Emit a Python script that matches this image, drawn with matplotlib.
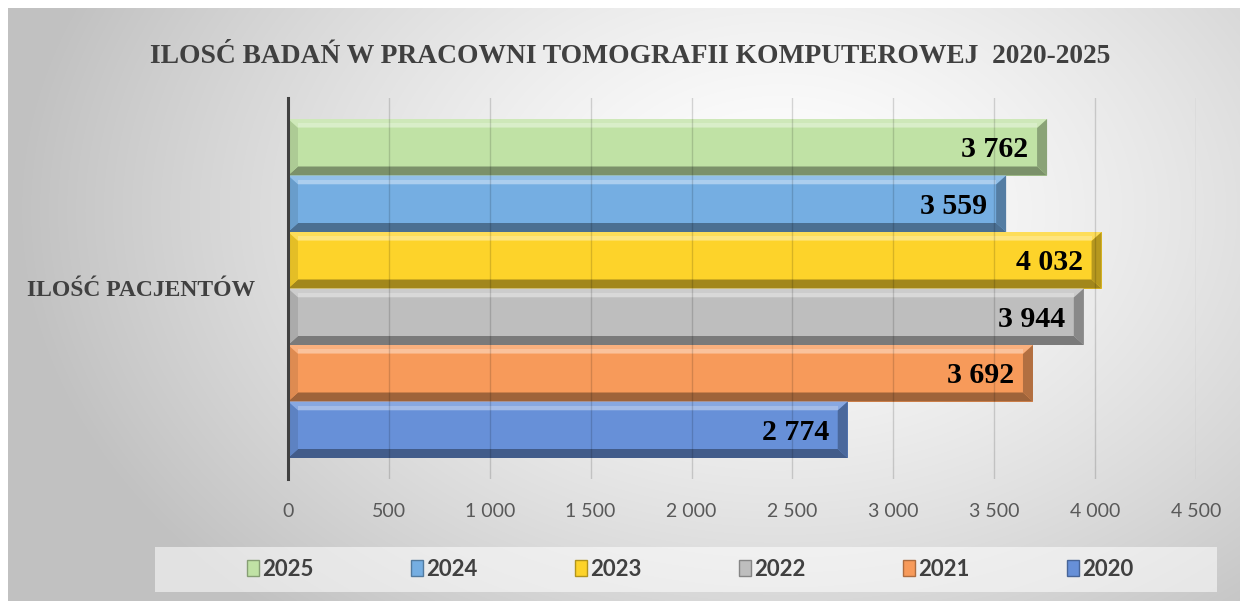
import numpy as np
import matplotlib
matplotlib.use("Agg")
import matplotlib.pyplot as plt
from matplotlib.patches import Polygon, Rectangle
from matplotlib.colors import to_rgb

# ---------------- data ----------------
title = "ILOSĆ BADAŃ W PRACOWNI TOMOGRAFII KOMPUTEROWEJ  2020-2025"
category = "ILOŚĆ PACJENTÓW"
years = ["2025", "2024", "2023", "2022", "2021", "2020"]
values = [3762, 3559, 4032, 3944, 3692, 2774]
colors = ["#C0E2A5", "#75AEE2", "#FDD32A", "#BEBEBE", "#F79A5A", "#6790D8"]
x_ticks = [0, 500, 1000, 1500, 2000, 2500, 3000, 3500, 4000, 4500]
x_tick_labels = ["0", "500", "1 000", "1 500", "2 000", "2 500", "3 000",
                 "3 500", "4 000", "4 500"]
value_labels = ["3 762", "3 559", "4 032", "3 944", "3 692", "2 774"]

# ---------------- layout ----------------
W, H = 1240, 601
fig = plt.figure(figsize=(W / 100, H / 100), dpi=100)
fig.patch.set_facecolor("white")

SERIF = ["Liberation Serif", "DejaVu Serif"]
SANS = ["Lato", "DejaVu Sans"]


def mix(c, t, amount):
    c = np.array(to_rgb(c))
    t = np.array(to_rgb(t))
    return tuple(c + (t - c) * amount)


# background radial gradient
bg = fig.add_axes([0, 0, 1, 1], zorder=-10)
bg.set_xlim(0, W)
bg.set_ylim(H, 0)
bg.axis("off")
yy, xx = np.mgrid[8:H:1.0, 8:W:1.0]
cx, cy = 780, 210
d = np.sqrt(((xx - cx) / 760.0) ** 2 + ((yy - cy) / 540.0) ** 2)
t = np.clip(d, 0, 1)
g = 1 - 0.24 * t ** 1.4
img = np.dstack([g, g, g])
bg.imshow(img, extent=(8, W, H, 8), aspect="auto", interpolation="bilinear")
bg.add_patch(Rectangle((155, 547), 1062, 45, facecolor="white", alpha=0.55,
                       edgecolor="none"))

# main axes
ax = fig.add_axes([288 / W, 1 - 479 / H, 908 / W, 381 / H])
ax.patch.set_alpha(0)
ax.set_xlim(0, 4500)
ax.set_ylim(-0.5, 0.5)

h = 56.5 / 381
offsets = [(2.5 - i) * h for i in range(len(values))]
bars = ax.barh(offsets, values, height=h, color=colors, zorder=2,
               edgecolor="none")

bx = 10 / (908 / 4500)   # bevel width in data units
by = 9 / 381             # bevel height in data units
for b, c in zip(bars, colors):
    x0, y0 = b.get_x(), b.get_y()
    v, hh = b.get_width(), b.get_height()
    y1 = y0 + hh
    # top facet
    ax.add_patch(Polygon([(x0, y1), (x0 + v, y1), (x0 + v - bx, y1 - by),
                          (x0 + bx, y1 - by)], closed=True,
                         facecolor=mix(c, "white", 0.22), edgecolor="none",
                         zorder=2.1))
    # highlight line
    ax.add_patch(Rectangle((x0 + bx, y1 - 0.9 * by), v - 2 * bx,
                           0.45 * by, facecolor=mix(c, "white", 0.4),
                           edgecolor="none", zorder=2.1))
    # bottom facet
    ax.add_patch(Polygon([(x0, y0), (x0 + v, y0), (x0 + v - bx, y0 + by),
                          (x0 + bx, y0 + by)], closed=True,
                         facecolor=mix(c, "black", 0.36), edgecolor="none",
                         zorder=2.1))
    # left facet
    ax.add_patch(Polygon([(x0, y1), (x0 + bx, y1 - by), (x0 + bx, y0 + by),
                          (x0, y0)], closed=True,
                         facecolor=mix(c, "black", 0.1), edgecolor="none",
                         zorder=2.1))
    # right facet
    ax.add_patch(Polygon([(x0 + v, y1), (x0 + v - bx, y1 - by),
                          (x0 + v - bx, y0 + by), (x0 + v, y0)], closed=True,
                         facecolor=mix(c, "black", 0.28), edgecolor="none",
                         zorder=2.1))

for b, lab in zip(bars, value_labels):
    v = b.get_width()
    yc = b.get_y() + b.get_height() / 2
    ax.text(v - 94, yc - 10 / 381, lab, ha="right", va="baseline",
            fontsize=21.5, fontweight="bold", family=SERIF, color="black",
            zorder=5)

# grid & spines
ax.set_xticks(x_ticks, x_tick_labels)
ax.grid(axis="x", color="black", alpha=0.15, linewidth=1.0, zorder=3)
ax.set_axisbelow(False)
for s in ["top", "right", "bottom"]:
    ax.spines[s].set_visible(False)
ax.spines["left"].set_color("#404040")
ax.spines["left"].set_linewidth(2.2)
ax.spines["left"].set_zorder(4)
ax.tick_params(axis="x", length=0, pad=17, labelsize=14, labelcolor="#595959")
for tl in ax.get_xticklabels():
    tl.set_family(SANS)

ax.set_yticks([0], [category])
ax.tick_params(axis="y", length=0, pad=24, labelcolor="#404040")
ylab = ax.get_yticklabels()[0]
ylab.set_family(SERIF)
ylab.set_fontweight("bold")
ylab.set_fontsize(19)

# title
ttl = fig.text(630 / W, 1 - 63 / H, title, ha="center", va="baseline",
               fontsize=22, fontweight="bold", family=SERIF, color="#404040")

# legend
handles = [Rectangle((0, 0), 1, 1, facecolor=c, edgecolor=mix(c, "black", 0.3),
                     linewidth=1.0) for c in colors]
leg = ax.legend(handles, years, ncol=6, loc="center",
                bbox_to_anchor=(690 / W, 1 - 569 / H),
                bbox_transform=fig.transFigure, frameon=False,
                prop={"family": SANS, "weight": "bold", "size": 16},
                handlelength=0.55, handleheight=0.7, handletextpad=0.12,
                columnspacing=4.4, borderaxespad=0)
for tx in leg.get_texts():
    tx.set_color("#404040")

# fit text widths
fig.canvas.draw()
r = fig.canvas.get_renderer()
bb = ttl.get_window_extent(r)
ttl.set_fontsize(ttl.get_fontsize() * 960 / bb.width)
bb = ylab.get_window_extent(r)
ylab.set_fontsize(ylab.get_fontsize() * 228 / bb.width)

fig.savefig("out.png", dpi=100, facecolor=fig.get_facecolor())
